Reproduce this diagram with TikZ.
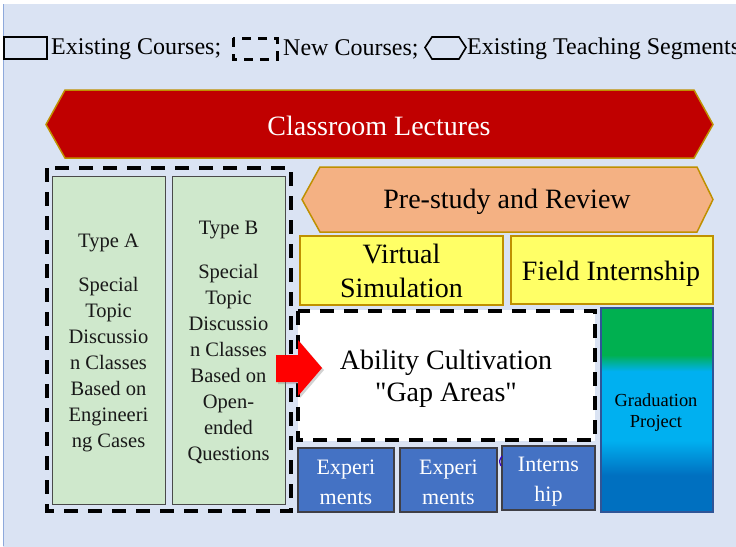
\documentclass[tikz,border=0pt]{standalone}
\usepackage{fontspec}
\setmainfont{Liberation Serif}
% plain family for straight quotation marks
\newfontfamily\plainqfont{Liberation Serif}
\usetikzlibrary{shadows}

\definecolor{pagebg}{HTML}{DAE3F3}
\definecolor{pageedge}{HTML}{8EA9DB}
\definecolor{lecturered}{HTML}{C00000}
\definecolor{goldedge}{HTML}{BF9000}
\definecolor{peach}{HTML}{F4B183}
\definecolor{lemon}{HTML}{FFFF66}
\definecolor{mint}{HTML}{CFE8CC}
\definecolor{mintedge}{HTML}{4A4A4A}
\definecolor{labblue}{HTML}{4472C4}
\definecolor{labedge}{HTML}{3F3F46}
\definecolor{gpgreen}{HTML}{00B050}
\definecolor{gpcyan}{HTML}{00B0F0}
\definecolor{gpblue}{HTML}{0070C0}
\definecolor{gpedge}{HTML}{2F5597}

% green -> cyan -> blue, top to bottom
\pgfdeclareverticalshading{gradproj}{100bp}{%
  color(0bp)=(gpblue); color(25bp)=(gpblue); color(34bp)=(gpblue);
  color(42.5bp)=(gpcyan); color(59.5bp)=(gpcyan);
  color(63.5bp)=(gpgreen); color(75bp)=(gpgreen); color(100bp)=(gpgreen)}

\newcommand{\dq}{{\plainqfont\symbol{34}}}

\tikzset{
  txt/.style={inner sep=0pt, align=center, text=black},
  bigtxt/.style={txt, font=\fontsize{28}{34}\selectfont},
  typetxt/.style={txt, font=\fontsize{20.5}{26}\selectfont, text=black!90},
  legtxt/.style={inner sep=0pt, anchor=west, font=\fontsize{24}{28}\selectfont},
  newcourse/.style={line width=4pt, dash pattern=on 14pt off 10pt},
  greenbox/.style={fill=mint, draw=mintedge, line width=0.8pt},
  yellowbox/.style={fill=lemon, draw=goldedge, line width=1.5pt},
  labbox/.style={fill=labblue, draw=labedge, line width=2pt},
  labtxt/.style={txt, text=white, font=\fontsize{22}{30}\selectfont},
}

\begin{document}
\begin{tikzpicture}[x=1pt,y=-1pt]
\useasboundingbox (0,0) rectangle (736,546);
\clip (0,0) rectangle (736,546);

% page
\fill[white] (0,0) rectangle (736,546);
\fill[pagebg] (3,4) rectangle (740,550);
\draw[pageedge, line width=0.8pt] (3,4) -- (3,546);

% legend
\draw[line width=2pt] (4,37) rectangle (47,59);
\node[legtxt] (legA) at (51,49) {Existing Courses;};
\draw[line width=3pt, dash pattern=on 9pt off 7pt] (233,38) rectangle (277,59);
\node[legtxt] (legB) at (283,49) {New Courses;};
\draw[line width=1.6pt] (425,47.5) -- (432,37) -- (459,37) -- (466,47.5) -- (459,59) -- (432,59) -- cycle;
\node[legtxt] (legC) at (467,49) {Existing Teaching Segments};

% classroom lectures
\draw[fill=lecturered, draw=goldedge, line width=1.5pt]
  (46,124.5) -- (65,90) -- (694,90) -- (713,124.5) -- (694,158) -- (65,158) -- cycle;
\node[bigtxt, text=white] (lect) at (379,126) {Classroom Lectures};

% new discussion classes
\node[greenbox, minimum width=113pt, minimum height=328pt] (typeA) at (108.5,340) {};
\node[greenbox, minimum width=113pt, minimum height=328pt] (typeB) at (228.5,340) {};
\node[typetxt] (typeAtxt) at (108.5,343) {Type A\\[18pt]Special\\Topic\\Discussio\\n Classes\\Based on\\Engineeri\\ng Cases};
\node[typetxt] (typeBtxt) at (228.5,342) {Type B\\[18pt]Special\\Topic\\Discussio\\n Classes\\Based on\\Open-\\ended\\Questions};
\draw[newcourse] (47,168) rectangle (291,511);

% pre-study and review
\draw[fill=peach, draw=goldedge, line width=1.5pt]
  (302,199.5) -- (320,167) -- (697,167) -- (713,199.5) -- (697,232) -- (320,232) -- cycle;
\node[bigtxt] (prest) at (507,202) {Pre-study and Review};

% yellow segments
\node[yellowbox, minimum width=203pt, minimum height=69pt] (virt) at (401.5,270.5) {};
\node[bigtxt] (virttxt) at (401.5,271) {Virtual\\Simulation};
\node[yellowbox, minimum width=202pt, minimum height=68pt] (field) at (612,270) {};
\node[bigtxt] (fieldtxt) at (611,274) {Field Internship};

% ability cultivation
\node[fill=white, minimum width=297pt, minimum height=131pt] (gap) at (446.5,375.5) {};
\draw[newcourse] (298,311) rectangle (595,440);
\node[bigtxt, font=\fontsize{28}{32}\selectfont] (gaptxt) at (446,379) {Ability Cultivation\\\dq Gap Areas\dq};

% graduation project
\node[shading=gradproj, draw=gpedge, line width=1.2pt, minimum width=112pt, minimum height=204pt] (grad) at (657,410) {};
\node[txt, font=\fontsize{18.4}{21}\selectfont] (gradtxt) at (656,413) {Graduation\\Project};

% experiments and internship
\node[labbox, minimum width=96pt, minimum height=64pt] (exp1) at (346,480) {};
\node[labtxt] (exp1txt) at (346,482) {Experi\\ments};
\node[labbox, minimum width=97pt, minimum height=64pt] (exp2) at (448.5,480) {};
\node[labtxt] (exp2txt) at (448.5,482) {Experi\\ments};
\node[labbox, minimum width=93pt, minimum height=64pt] (intern) at (548.5,478) {};
\node[labtxt] (interntxt) at (548.5,482) {Interns\\hip};
\draw[color=blue!60!violet, line width=1.2pt] (502,456) .. controls (499,461) .. (501,466);

% red arrow into the gap areas
\draw[fill=red, draw=none, drop shadow={opacity=0.35, shadow xshift=2pt, shadow yshift=-2pt}]
  (276,355) -- (298,355) -- (298,340) -- (322,368) -- (298,396) -- (298,382) -- (276,382) -- cycle;
\end{tikzpicture}
\end{document}
